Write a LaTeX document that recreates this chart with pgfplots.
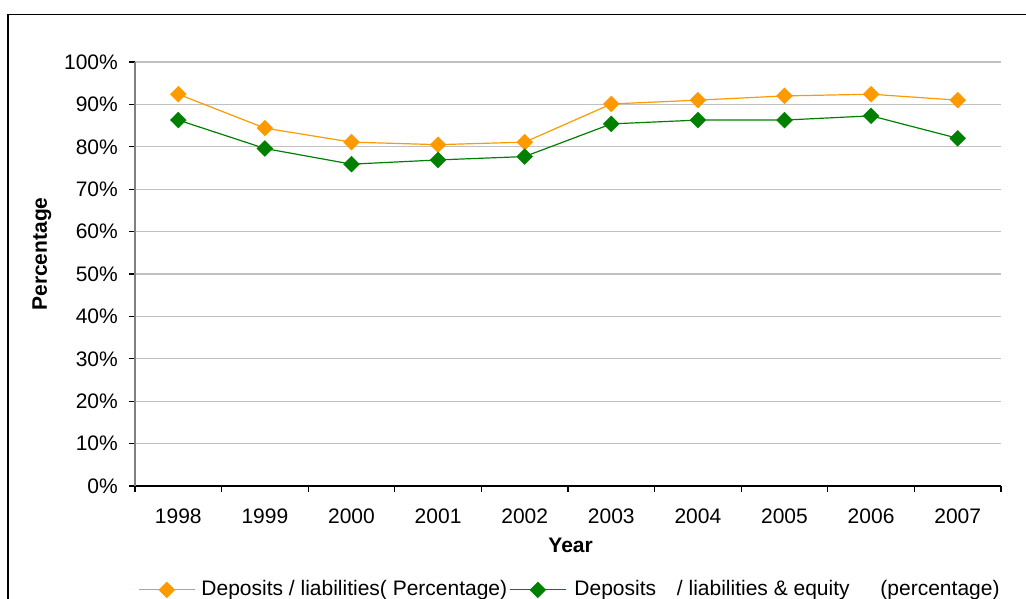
\documentclass[border=0pt]{standalone}
\usepackage{pgfplots}
\pgfplotsset{compat=1.18}
\usepackage{fontspec}
\setmainfont{Liberation Sans}
\definecolor{orangeS}{HTML}{FF9900}
\definecolor{greenS}{HTML}{008000}
\definecolor{gridc}{HTML}{C0C0C0}
\begin{document}
\fontsize{21}{25}\selectfont
\begin{tikzpicture}[x=1pt,y=1pt]
\useasboundingbox (0,0) rectangle (1026,599);
\draw[line width=1.3pt] (8,-20) -- (8,584.5) -- (1040,584.5);
\begin{axis}[
  at={(135pt,113pt)}, anchor=south west,
  width=866pt, height=424pt, scale only axis,
  clip=false,
  font=\fontsize{21}{25}\selectfont,
  xmin=-0.5, xmax=9.5, ymin=0, ymax=100,
  axis x line*=bottom, axis y line*=left,
  x axis line style={-, black, line width=1.2pt},
  y axis line style={-, gray, line width=1.2pt},
  xtick={0,...,9},
  xticklabels={1998,1999,2000,2001,2002,2003,2004,2005,2006,2007},
  xticklabel style={yshift=-10pt},
  yticklabel style={xshift=-4pt},
  minor xtick={-0.5,0.5,...,9.5},
  ytick={0,10,...,100},
  yticklabels={0\%,10\%,20\%,30\%,40\%,50\%,60\%,70\%,80\%,90\%,100\%},
  tick align=outside, major tick length=6pt, minor tick length=6pt,
  tick style={black, line width=1.2pt},
  major x tick style={draw=none},
  ymajorgrids, major grid style={gridc, line width=1.2pt},
  xlabel={Year}, ylabel={Percentage},
  xlabel style={font=\fontsize{21}{25}\selectfont\bfseries, at={(axis description cs:0.503,-0.139)}, anchor=center},
  ylabel style={font=\fontsize{21}{25}\selectfont\bfseries, at={(axis description cs:-0.1075,0.547)}, anchor=center},
  legend columns=2,
  legend style={at={(axis description cs:0.0035,-0.245)}, anchor=west, draw=none, fill=none, inner sep=0pt, nodes={inner sep=0pt}, column sep=0pt, /tikz/every even column/.append style={column sep=2pt}},
  legend cell align=left,
  legend image code/.code={\draw[mark repeat=2,mark phase=2,#1] plot coordinates {(0pt,0pt)(28pt,0pt)(56pt,0pt)};},
]
\addplot[orangeS, line width=1.2pt, mark=square*, mark size=5.6pt, mark options={rotate=45, solid, line width=0.4pt}]
  coordinates {(0,92.4)(1,84.4)(2,81.1)(3,80.5)(4,81.1)(5,90.1)(6,91.0)(7,92.0)(8,92.4)(9,91.0)};
\addlegendentry{\hspace{6pt}Deposits / liabilities( Percentage)}
\addplot[greenS, line width=1.2pt, mark=square*, mark size=5.6pt, mark options={rotate=45, solid, line width=0.4pt}]
  coordinates {(0,86.3)(1,79.6)(2,75.9)(3,76.9)(4,77.7)(5,85.4)(6,86.3)(7,86.3)(8,87.3)(9,82.0)};
\addlegendentry{\hspace{8pt}Deposits\hspace{15pt} / liabilities \& equity\hspace{25pt} (percentage)}
\end{axis}
\end{tikzpicture}
\end{document}
